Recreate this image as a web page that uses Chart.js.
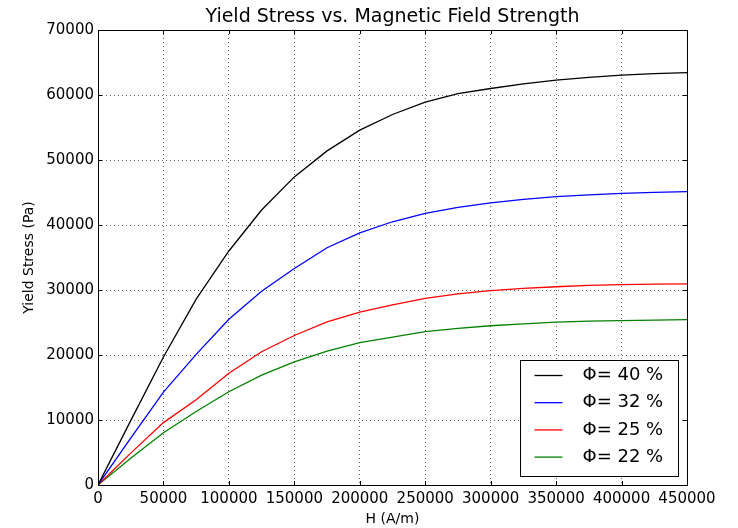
<!DOCTYPE html>
<html>
<head>
<meta charset="utf-8">
<script src="https://cdn.jsdelivr.net/npm/chart.js@4/dist/chart.umd.min.js"></script>
<style>
  html, body { margin: 0; padding: 0; background: #fff; }
  #wrap { width: 738px; height: 528px; }
</style>
</head>
<body>
<div id="wrap"><canvas id="chart" width="738" height="528"></canvas></div>
<script>
const hValues = [0, 25000, 50000, 75000, 100000, 125000, 150000, 175000, 200000, 225000,
  250000, 275000, 300000, 325000, 350000, 375000, 400000, 425000, 450000];

const phiLabels = ['Φ= 40 %', 'Φ= 32 %', 'Φ= 25 %', 'Φ= 22 %'];
const phiColors = ['#000000', '#0000ff', '#ff0000', '#008000'];

const stress40 = [0, 9900, 19700, 28600, 36000, 42300, 47400, 51400, 54600, 57000,
  58900, 60200, 61000, 61700, 62300, 62700, 63050, 63300, 63450];
const stress32 = [0, 7200, 14300, 20100, 25500, 29800, 33300, 36500, 38800, 40500,
  41800, 42700, 43400, 43950, 44350, 44650, 44870, 45030, 45150];
const stress25 = [0, 4900, 9600, 13100, 17200, 20500, 23000, 25100, 26600, 27700,
  28700, 29400, 29900, 30250, 30500, 30700, 30820, 30900, 30950];
const stress22 = [0, 4100, 8050, 11300, 14350, 16900, 18950, 20600, 21900, 22750,
  23600, 24100, 24500, 24800, 25050, 25200, 25300, 25380, 25450];

const allStress = [stress40, stress32, stress25, stress22];

const datasets = allStress.map((ys, i) => ({
  label: phiLabels[i],
  data: ys.map((y, j) => ({ x: hValues[j], y: y })),
  borderColor: phiColors[i],
  backgroundColor: phiColors[i],
  borderWidth: 1.3,
  pointRadius: 0,
  tension: 0,
  fill: false
}));

// frame + inward ticks + boxed legend, matplotlib style
const mplFrame = {
  id: 'mplFrame',
  afterDraw(chart) {
    const { ctx, chartArea: a, scales } = chart;
    ctx.save();
    ctx.strokeStyle = '#000';
    ctx.lineWidth = 1;
    const len = 4;
    ctx.beginPath();
    scales.x.ticks.forEach(t => {
      const px = Math.round(scales.x.getPixelForValue(t.value)) + 0.5;
      ctx.moveTo(px, a.bottom); ctx.lineTo(px, a.bottom - len);
      ctx.moveTo(px, a.top); ctx.lineTo(px, a.top + len);
    });
    scales.y.ticks.forEach(t => {
      const py = Math.round(scales.y.getPixelForValue(t.value)) + 0.5;
      ctx.moveTo(a.left, py); ctx.lineTo(a.left + len, py);
      ctx.moveTo(a.right, py); ctx.lineTo(a.right - len, py);
    });
    ctx.stroke();
    ctx.strokeRect(Math.round(a.left) + 0.5, Math.round(a.top) + 0.5,
      Math.round(a.right - a.left), Math.round(a.bottom - a.top));

    // legend
    const w = 158, h = 116;
    const lx = Math.round(a.right - 9 - w) + 0.5;
    const ly = Math.round(a.bottom - 9 - h) + 0.5;
    ctx.fillStyle = '#fff';
    ctx.fillRect(lx, ly, w, h);
    ctx.strokeRect(lx, ly, w, h);
    ctx.font = '18px "DejaVu Sans"';
    ctx.textBaseline = 'middle';
    ctx.textAlign = 'left';
    chart.data.datasets.forEach((ds, i) => {
      const ry = ly + 15 + i * 27.2;
      ctx.strokeStyle = ds.borderColor;
      ctx.lineWidth = 1.3;
      ctx.beginPath();
      ctx.moveTo(lx + 14, ry); ctx.lineTo(lx + 42, ry);
      ctx.stroke();
      ctx.fillStyle = '#000';
      ctx.fillText(ds.label, lx + 62, ry);
    });
    ctx.restore();
  }
};

const gridStyle = {
  color: 'rgba(0,0,0,0.6)',
  lineWidth: 1,
  drawTicks: false
};
const borderStyle = { display: false, dash: [1, 3] };

new Chart(document.getElementById('chart'), {
  type: 'line',
  data: { datasets: datasets },
  options: {
    responsive: false,
    animation: false,
    layout: { padding: { left: 0, right: 51, top: 0, bottom: 0 } },
    plugins: {
      legend: { display: false },
      tooltip: { enabled: false },
      title: {
        display: true,
        fullSize: false,
        text: 'Yield Stress vs. Magnetic Field Strength',
        color: '#000',
        font: { family: 'DejaVu Sans', size: 19, weight: 'normal', lineHeight: 1.2 },
        padding: { top: 5.6, bottom: 1.6 }
      }
    },
    scales: {
      x: {
        type: 'linear',
        min: 0,
        max: 450000,
        border: borderStyle,
        grid: gridStyle,
        ticks: {
          stepSize: 50000,
          color: '#000',
          padding: 5,
          maxRotation: 0,
          font: { family: 'DejaVu Sans', size: 15 },
          callback: v => String(v)
        },
        title: {
          display: true,
          text: 'H (A/m)',
          color: '#000',
          font: { family: 'DejaVu Sans', size: 14, lineHeight: 1.2 },
          padding: { top: 0, bottom: 0 }
        },
        afterFit(scale) { scale.height = 43; }
      },
      y: {
        min: 0,
        max: 70000,
        border: borderStyle,
        grid: gridStyle,
        ticks: {
          stepSize: 10000,
          color: '#000',
          padding: 4,
          font: { family: 'DejaVu Sans', size: 15 },
          callback: v => String(v)
        },
        title: {
          display: true,
          text: 'Yield Stress (Pa)',
          color: '#000',
          font: { family: 'DejaVu Sans', size: 14, lineHeight: 1.2 },
          padding: { top: 21, bottom: 0 }
        },
        afterFit(scale) { scale.width = 98; }
      }
    }
  },
  plugins: [mplFrame]
});
</script>
</body>
</html>
